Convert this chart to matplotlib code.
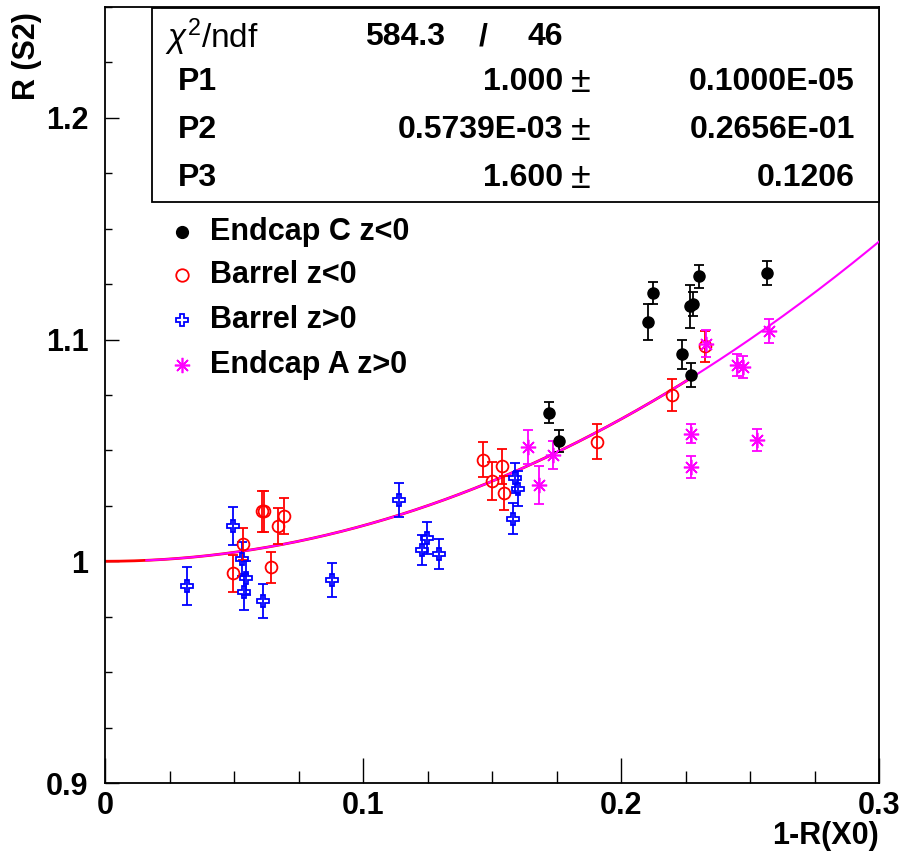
import numpy as np
import matplotlib
matplotlib.use("Agg")
import matplotlib.pyplot as plt
from matplotlib.lines import Line2D
from matplotlib.patches import Rectangle
from matplotlib.ticker import MultipleLocator

plt.rcParams['font.family'] = ['Liberation Sans', 'DejaVu Sans']
plt.rcParams['mathtext.fontset'] = 'custom'
plt.rcParams['mathtext.rm'] = 'Liberation Sans'
plt.rcParams['mathtext.it'] = 'Liberation Sans:italic'
plt.rcParams['mathtext.bf'] = 'Liberation Sans:bold'

# ---------------- data ----------------
endcapC_x = [0.1721, 0.1760, 0.2105, 0.2125, 0.2236, 0.2267, 0.2280, 0.2271, 0.2301, 0.2567]
endcapC_y = [1.0670, 1.0544, 1.1080, 1.1211, 1.0933, 1.1150, 1.1162, 1.0842, 1.1285, 1.1300]
endcapC_e = [0.0048, 0.0049, 0.0080, 0.0050, 0.0064, 0.0098, 0.0054, 0.0054, 0.0053, 0.0056]

barrelN_x = [0.0497, 0.0535, 0.0608, 0.0618, 0.0643, 0.0672, 0.0695, 0.1466, 0.1501, 0.1540, 0.1548, 0.1908, 0.2199, 0.2324]
barrelN_y = [0.9945, 1.0080, 1.0225, 1.0225, 0.9972, 1.0158, 1.0203, 1.0459, 1.0364, 1.0428, 1.0308, 1.0540, 1.0749, 1.0969]
barrelN_e = [0.0084, 0.0072, 0.0094, 0.0094, 0.0070, 0.0081, 0.0081, 0.0077, 0.0086, 0.0079, 0.0077, 0.0077, 0.0072, 0.0068]

barrelP_x = [0.0319, 0.0497, 0.0532, 0.0545, 0.0539, 0.0614, 0.0880, 0.1140, 0.1229, 0.1249, 0.1296, 0.1581, 0.1588, 0.1599]
barrelP_y = [0.9887, 1.0161, 1.0012, 0.9925, 0.9861, 0.9820, 0.9917, 1.0275, 1.0050, 1.0107, 1.0032, 1.0191, 1.0376, 1.0328]
barrelP_e = [0.0086, 0.0086, 0.0077, 0.0077, 0.0081, 0.0077, 0.0077, 0.0077, 0.0068, 0.0072, 0.0068, 0.0070, 0.0068, 0.0077]

endcapA_x = [0.1641, 0.1682, 0.1738, 0.2273, 0.2273, 0.2331, 0.2448, 0.2474, 0.2528, 0.2574]
endcapA_y = [1.0516, 1.0343, 1.0481, 1.0576, 1.0426, 1.0982, 1.0887, 1.0875, 1.0546, 1.1037]
endcapA_e = [0.0077, 0.0086, 0.0063, 0.0043, 0.0050, 0.0059, 0.0050, 0.0050, 0.0050, 0.0054]

fit_p = [1.000, 0.5739e-3, 1.600]
fit_pe = ["0.1000E-05", "0.2656E-01", "0.1206"]
fit_pv = ["1.000", "0.5739E-03", "1.600"]
chi2_txt = "584.3"
ndf_txt = "46"

series_labels = ["Endcap C z<0", "Barrel z<0", "Barrel z>0", "Endcap A z>0"]
xticks = [0.0, 0.1, 0.2, 0.3]
xtick_labels = ["0", "0.1", "0.2", "0.3"]
yticks = [0.9, 1.0, 1.1, 1.2]
ytick_labels = ["0.9", "1", "1.1", "1.2"]

# ---------------- figure ----------------
W, H = 906, 855
fig = plt.figure(figsize=(W / 100, H / 100), dpi=100)
L, R, T, B = 105, 879, 7, 783
ax = fig.add_axes([L / W, 1 - B / H, (R - L) / W, (B - T) / H])
ax.set_xlim(0, 0.3)
ax.set_ylim(0.9, 1.25)


def fx(px):
    return px / W


def fy(py):
    return 1 - py / H


# fit curves
xr = np.linspace(0.0, 0.228, 200)
ax.plot(xr, fit_p[0] + fit_p[1] * xr + fit_p[2] * xr ** 2, color='#ff0000', lw=2.0, zorder=2)
xm = np.linspace(0.016, 0.3, 300)
ax.plot(xm, fit_p[0] + fit_p[1] * xm + fit_p[2] * xm ** 2, color='#ff00ff', lw=1.5, zorder=3)

eb = dict(elinewidth=1.3, capsize=3.8, capthick=1.3, ls='none', zorder=4)
star = (8, 2, 0)
ax.errorbar(barrelP_x, barrelP_y, yerr=barrelP_e, fmt='P', color='#0000ff', mfc='none',
            mec='#0000ff', ms=9, mew=1.3, **eb)
ax.errorbar(barrelN_x, barrelN_y, yerr=barrelN_e, fmt='o', color='#ff0000', mfc='none',
            mec='#ff0000', ms=8.5, mew=1.3, **eb)
ax.errorbar(endcapA_x, endcapA_y, yerr=endcapA_e, fmt='none', ecolor='#ff00ff', **eb)
ax.plot(endcapA_x, endcapA_y, ls='none', marker=star, ms=11, mew=1.2, color='#ff00ff', zorder=5)
ax.errorbar(endcapC_x, endcapC_y, yerr=endcapC_e, fmt='o', color='black', ms=8, **eb)

# axes styling
for s in ax.spines.values():
    s.set_linewidth(1.3)
ax.set_xticks(xticks)
ax.set_xticklabels(xtick_labels, fontweight='bold')
ax.set_yticks(yticks)
ax.set_yticklabels(ytick_labels, fontweight='bold')
ax.xaxis.set_minor_locator(MultipleLocator(0.025))
ax.yaxis.set_minor_locator(MultipleLocator(0.025))
ax.tick_params(axis='x', which='major', direction='in', length=18, width=1, top=False,
               labelsize=22, pad=6)
ax.tick_params(axis='x', which='minor', direction='in', length=9, width=1, top=False)
ax.tick_params(axis='y', which='major', direction='in', length=10, width=1, right=False,
               labelsize=22, pad=12)
ax.tick_params(axis='y', which='minor', direction='in', length=5, width=1, right=False)

fig.text(fx(27), fy(12), "R (S2)", rotation=90, ha='center', va='top', fontsize=22,
         fontweight='bold')
fig.text(fx(879), fy(821), "1-R(X0)", ha='right', va='top', fontsize=22, fontweight='bold')

# stats box
fig.add_artist(Rectangle((fx(152), fy(202)), (879 - 152) / W, (202 - 8) / H,
                         transform=fig.transFigure, facecolor='white', edgecolor='black',
                         lw=1.3, zorder=5))
sfs = 23
fig.text(fx(165), fy(37), r"$\chi^{2}$/ndf", ha='left', va='center', fontsize=sfs + 1,
         zorder=6)
fig.text(fx(445), fy(37), chi2_txt, ha='right', va='center', fontsize=sfs, fontweight='bold',
         zorder=6)
fig.text(fx(483), fy(37), "/", ha='center', va='center', fontsize=sfs, fontweight='bold',
         zorder=6)
fig.text(fx(563), fy(37), ndf_txt, ha='right', va='center', fontsize=sfs, fontweight='bold',
         zorder=6)
rows_y = [82, 130, 178]
for i in range(3):
    fig.text(fx(178), fy(rows_y[i]), "P%d" % (i + 1), ha='left', va='center', fontsize=sfs,
             fontweight='bold', zorder=6)
    fig.text(fx(563), fy(rows_y[i]), fit_pv[i], ha='right', va='center', fontsize=sfs,
             fontweight='bold', zorder=6)
    fig.text(fx(581), fy(rows_y[i]), "\u00b1", ha='center', va='center', fontsize=sfs + 3,
             fontweight='normal', zorder=6)
    fig.text(fx(855), fy(rows_y[i]), fit_pe[i], ha='right', va='center', fontsize=sfs,
             fontweight='bold', zorder=6)

# legend
leg_style = [
    dict(marker='o', color='black', ms=8.5),
    dict(marker='o', color='#ff0000', mfc='none', mec='#ff0000', ms=9, mew=1.3),
    dict(marker='P', color='#0000ff', mfc='none', mec='#0000ff', ms=9, mew=1.3),
    dict(marker=star, color='#ff00ff', ms=11, mew=1.2),
]
leg_y = [232, 275, 320, 365]
for i in range(4):
    fig.add_artist(Line2D([fx(182)], [fy(leg_y[i])], transform=fig.transFigure, ls='none',
                          **leg_style[i]))
    fig.text(fx(210), fy(leg_y[i]), series_labels[i], ha='left', va='center', fontsize=22,
             fontweight='bold')

fig.savefig("out.png", dpi=100)
